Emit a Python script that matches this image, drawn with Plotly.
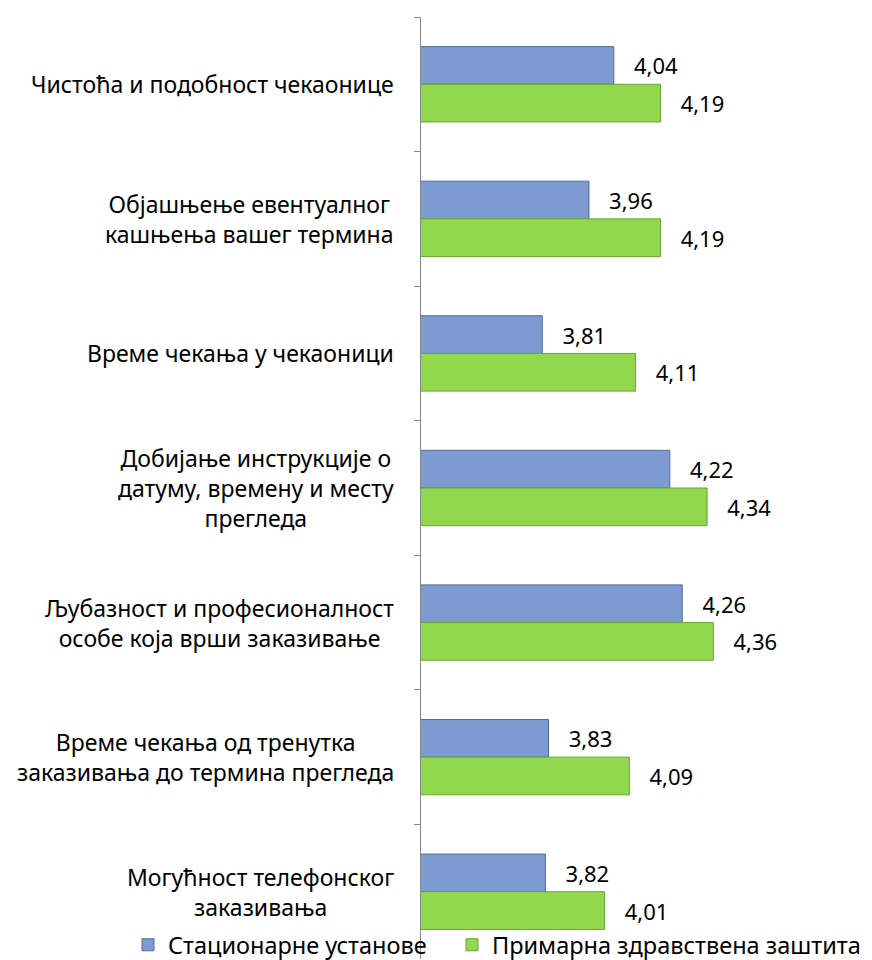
import plotly.graph_objects as go

categories = [
    "Чистоћа и подобност чекаонице",
    "Објашњење евентуалног<br>кашњења вашег термина",
    "Време чекања у чекаоници",
    "Добијање инструкције о<br>датуму, времену и месту<br>прегледа",
    "Љубазност и професионалност<br>особе која врши заказивање",
    "Време чекања од тренутка<br>заказивања до термина прегледа",
    "Могућност телефонског<br>заказивања",
]
series_names = ["Стационарне установе", "Примарна здравствена заштита"]
stacionarne = [4.04, 3.96, 3.81, 4.22, 4.26, 3.83, 3.82]
primarna = [4.19, 4.19, 4.11, 4.34, 4.36, 4.09, 4.01]

FONT = "Noto Sans"
W, H = 872, 960
ML, MR, MT, MB = 421, 11, 17, 1
PW = W - ML - MR
X0 = 3.42
PX_PER_UNIT = 311.0

fig = go.Figure()
fig.add_trace(go.Bar(
    y=categories, x=stacionarne, name=series_names[0], orientation="h",
    marker=dict(color="#7d9bd0", line=dict(color="#4f6a9c", width=1)),
    texttemplate="\u00a0\u00a0\u00a0%{x:.2f}", textposition="outside",
    textfont=dict(family=FONT, size=22, color="#000000"), cliponaxis=False,
    legend="legend",
))
fig.add_trace(go.Bar(
    y=categories, x=primarna, name=series_names[1], orientation="h",
    marker=dict(color="#92d84e", line=dict(color="#66a82f", width=1)),
    texttemplate="\u00a0\u00a0\u00a0%{x:.2f}", textposition="outside",
    textfont=dict(family=FONT, size=22, color="#000000"), cliponaxis=False,
    legend="legend2",
))

for c in categories:
    fig.add_annotation(
        x=(396 - ML) / PW, xref="paper", y=c, yref="y",
        text=c, showarrow=False, xanchor="right", align="center",
        font=dict(family=FONT, size=23, color="#000000"),
    )

leg_common = dict(
    orientation="h", xref="container", yref="container",
    xanchor="left", y=1 - 945 / H, yanchor="middle",
    bgcolor="rgba(0,0,0,0)",
    font=dict(family=FONT, size=23.5, color="#000000"),
)

fig.update_layout(
    width=W, height=H,
    margin=dict(l=ML, r=MR, t=MT, b=MB, autoexpand=False),
    paper_bgcolor="white", plot_bgcolor="white",
    barmode="group", bargap=0.44, bargroupgap=0.0,
    separators=", ",
    showlegend=True,
    legend=dict(x=128 / W, **leg_common),
    legend2=dict(x=452 / W, **leg_common),
    font=dict(family=FONT),
)
fig.update_xaxes(range=[X0, X0 + PW / PX_PER_UNIT], visible=False, showgrid=False)
fig.update_yaxes(
    autorange="reversed", showticklabels=False, showgrid=False,
    showline=True, linecolor="#868686", linewidth=1,
    ticks="outside", ticklen=6, tickcolor="#868686", tickson="boundaries",
)

fig.write_html(
    "out.html",
    config={"displayModeBar": False},
    post_script="document.body.style.margin='0';document.body.style.overflow='hidden';",
)
